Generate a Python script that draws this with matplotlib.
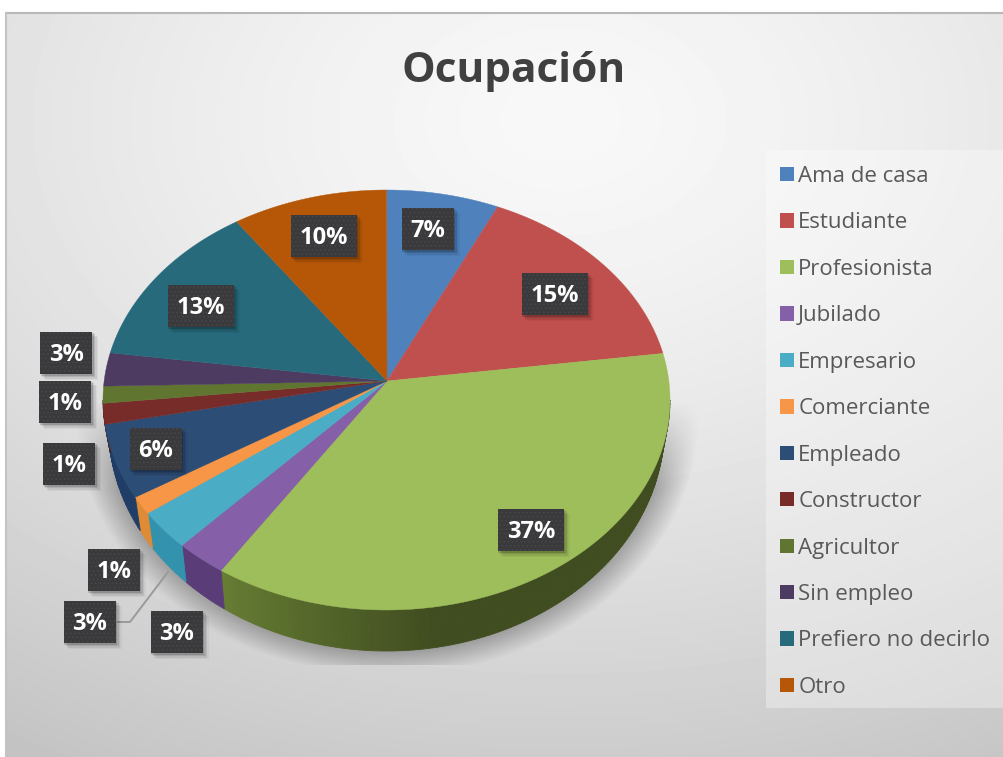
import numpy as np
import matplotlib
matplotlib.use('Agg')
import matplotlib.pyplot as plt
from matplotlib.patches import Patch, Rectangle

categories = ['Ama de casa', 'Estudiante', 'Profesionista', 'Jubilado', 'Empresario', 'Comerciante',
              'Empleado', 'Constructor', 'Agricultor', 'Sin empleo', 'Prefiero no decirlo', 'Otro']
# shares as they measure on the drawn pie (the perspective stretches them a little)
shares = [6.4, 15.0, 38.4, 2.9, 3.1, 1.4, 5.8, 1.6, 1.3, 2.55, 12.5, 8.85]
labels = ['7%', '15%', '37%', '3%', '3%', '1%', '6%', '1%', '1%', '3%', '13%', '10%']
colors = ['#4f81bd', '#c0504d', '#9ebd5b', '#8560a8', '#4bacc6', '#f79646',
          '#2c4d75', '#772c2a', '#5f7530', '#4d3b62', '#276a7c', '#b65708']
wall_colors = ['#3a6090', '#8f3a38', '#404d20', '#5a3d78', '#3392ad', '#e08b35',
               '#1f3d66', '#5a2020', '#47581f', '#3a2c4a', '#1c5060', '#884006']
label_x = [428, 555, 531, 177, 90, 114, 156, 69.5, 65.5, 66.5, 201, 324]
label_y = [229, 294, 530, 632, 622, 570, 449, 464, 402, 353, 306, 236]

# pie geometry in picture pixels
cx, cy = 386.5, 400
rx, ry = 283.5, 210
apex_x, apex_y = 387, 381

plt.rcParams['hatch.linewidth'] = 0.6

fig = plt.figure(figsize=(10.04, 7.57), dpi=100)
ax = fig.add_axes([0, 0, 1, 1])
ax.axis('off')

# chart area background
x, y = np.meshgrid(np.arange(6, 1004), np.arange(13, 757))
d = np.sqrt(((x - 560) / 900.0) ** 2 + ((y - 120) / 620.0) ** 2)
ax.imshow(248 - 42 * d ** 1.4, cmap='gray', vmin=0, vmax=255, extent=(6, 1004, 757, 13), aspect='auto', zorder=0)
ax.plot([6, 1004], [13, 13], color='#b8b8b8', lw=1.5, zorder=1)
ax.plot([6, 6], [13, 757], color='#c4c4c4', lw=1.5, zorder=1)

# legend panel
ax.add_patch(Rectangle((766, 150), 238, 558, facecolor='white', alpha=0.33, edgecolor='none', zorder=1))

# soft shadow under the pie
sx, sy = np.meshgrid(np.arange(60, 720), np.arange(300, 665))
r = np.sqrt(((sx - 387) / 292.0) ** 2 + ((sy - 415) / 243.0) ** 2)
alpha = 0.38 * np.clip((1.07 - r) / 0.14, 0, 1) * np.clip((sy - 400) / 90.0, 0, 1)
rgba = np.zeros(sx.shape + (4,))
rgba[..., 3] = alpha
ax.imshow(rgba, extent=(60, 720, 665, 300), aspect='auto', zorder=2)
ax.set_xlim(0, 1004)
ax.set_ylim(757, 0)


def rim(t):
    return cx + rx * np.sin(t), cy - ry * np.cos(t)


edges = np.concatenate([[0], np.cumsum(shares)]) / np.sum(shares) * 2 * np.pi

# side wall, front half only
for i in range(len(shares)):
    lo, hi = max(edges[i], np.pi / 2), min(edges[i + 1], 3 * np.pi / 2)
    if hi <= lo:
        continue
    steps = np.linspace(lo, hi, max(int(np.degrees(hi - lo)), 2) + 1)
    for a, b in zip(steps[:-1], steps[1:]):
        xa, ya = rim(np.array([a, b]))
        depth = 27 + 14 * np.abs(np.cos([a, b]))
        xb = cx + (xa - cx) * 0.98
        col = np.array(matplotlib.colors.to_rgb(wall_colors[i]))
        if i == 2:
            # the long wall gets lighter towards its left end
            col = col + (np.array([0.40, 0.49, 0.20]) - col) * np.clip((np.degrees(a) - 170) / 45.0, 0, 1)
        ax.fill([xa[0], xa[1], xb[1], xb[0]], [ya[0], ya[1], ya[1] + depth[1], ya[0] + depth[0]],
                color=col, lw=0.6, zorder=3)

# top face
for i in range(len(shares)):
    t = np.linspace(edges[i], edges[i + 1], 120)
    px, py = rim(t)
    ax.fill(np.r_[apex_x, px], np.r_[apex_y, py], color=colors[i], lw=0.3, zorder=4)

# leader line of the Empresario label
ax.plot([118, 130, 168], [622, 622, 572], color='#9a9a9a', lw=1.4, zorder=5)

# data labels
for lx, ly, txt in zip(label_x, label_y, labels):
    w = 66 if len(txt) == 3 else 52
    h = 42
    for k, a in zip([6, 4.5, 3, 1.5], [0.04, 0.07, 0.1, 0.14]):
        ax.add_patch(Rectangle((lx - w / 2 + k - 1, ly - h / 2 + k - 1), w + 1, h + 1, facecolor='black',
                               edgecolor='none', alpha=a, zorder=6))
    ax.add_patch(Rectangle((lx - w / 2, ly - h / 2), w, h, facecolor='#3a3a3c', edgecolor='#48484a',
                           hatch='....', lw=0, zorder=7))
    ax.text(lx, ly + 2, txt, color='white', fontsize=17, fontweight='bold', family='Open Sans',
            ha='center', va='center', zorder=8)

ax.text(514, 72, 'Ocupación', color='#404040', fontsize=30.5, fontweight='bold', family='Open Sans',
        ha='center', va='center', zorder=8)

handles = [Patch(facecolor=c, edgecolor='none') for c in colors]
leg = ax.legend(handles, categories, loc='upper left', bbox_to_anchor=(780 / 1004, 1 - 166 / 757), frameon=False,
                prop={'family': 'Open Sans', 'size': 16}, labelcolor='#595959', labelspacing=1.145,
                handlelength=0.62, handleheight=0.62, handletextpad=0.2, borderpad=0, borderaxespad=0)
leg.set_zorder(8)

fig.savefig('out.png', dpi=100)
